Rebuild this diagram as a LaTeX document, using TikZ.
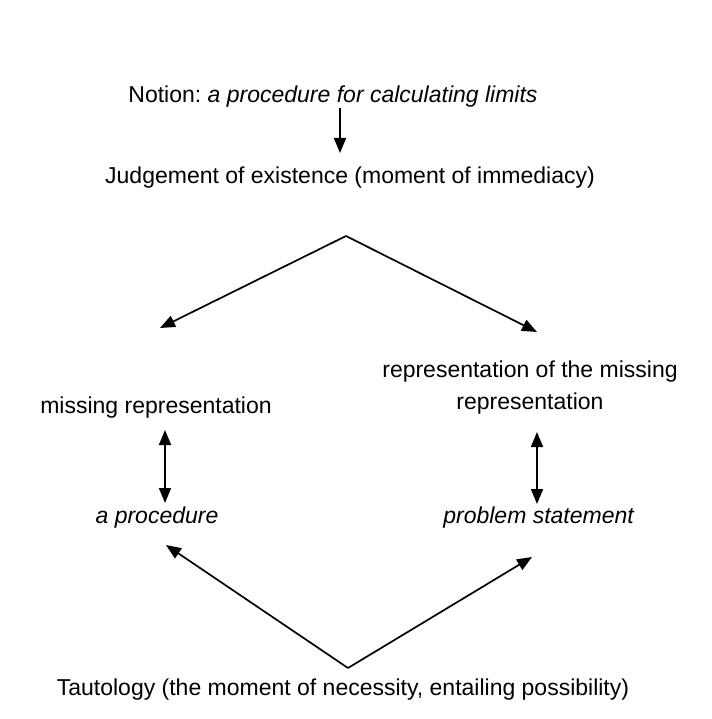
\documentclass[tikz,border=0pt]{standalone}
\usepackage{fontspec}
\setmainfont{Liberation Sans}
\usetikzlibrary{arrows.meta}
\frenchspacing

\begin{document}
\begin{tikzpicture}[x=1pt,y=-1pt,font=\fontsize{23}{32}\selectfont,
  txt/.style={inner sep=0pt,anchor=center},
  arr/.style={-{Triangle[length=15pt,width=12pt]},line width=1.7pt},
  dbl/.style={{Triangle[length=15pt,width=12pt]}-{Triangle[length=15pt,width=12pt]},line width=1.7pt}]
  \useasboundingbox (0,0) rectangle (711,719);
  % texts
  \node[txt] (notion) at (333,97) {Notion: \textit{a procedure for calculating limits}};
  \node[txt] (judge) at (350,178) {Judgement of existence (moment of immediacy)};
  \node[txt] (missing) at (156,408) {missing representation};
  \node[txt,align=center] (repmiss) at (530,388) {representation of the missing\\representation};
  \node[txt] (proc) at (157,518) {\textit{a procedure}};
  \node[txt] (stmt) at (539,518) {\textit{problem statement}};
  \node[txt] (taut) at (343,690) {Tautology (the moment of necessity, entailing possibility)};
  % points
  \coordinate (down) at (340,153);
  \coordinate (top) at (346,236);
  \coordinate (topl) at (160,328);
  \coordinate (topr) at (537,332);
  \coordinate (bot) at (348,668);
  \coordinate (botl) at (166,545);
  \coordinate (botr) at (532,557);
  \coordinate (ml) at (165,430);
  \coordinate (pl) at (165,503);
  \coordinate (mr) at (537,432);
  \coordinate (pr) at (537,504);
  % arrows
  \draw[arr] (notion.south -| down) -- (down);
  \draw[arr] (top) -- (topl);
  \draw[arr] (top) -- (topr);
  \draw[dbl] (ml) -- (pl);
  \draw[dbl] (mr) -- (pr);
  \draw[arr] (bot) -- (botl);
  \draw[arr] (bot) -- (botr);
\end{tikzpicture}
\end{document}
